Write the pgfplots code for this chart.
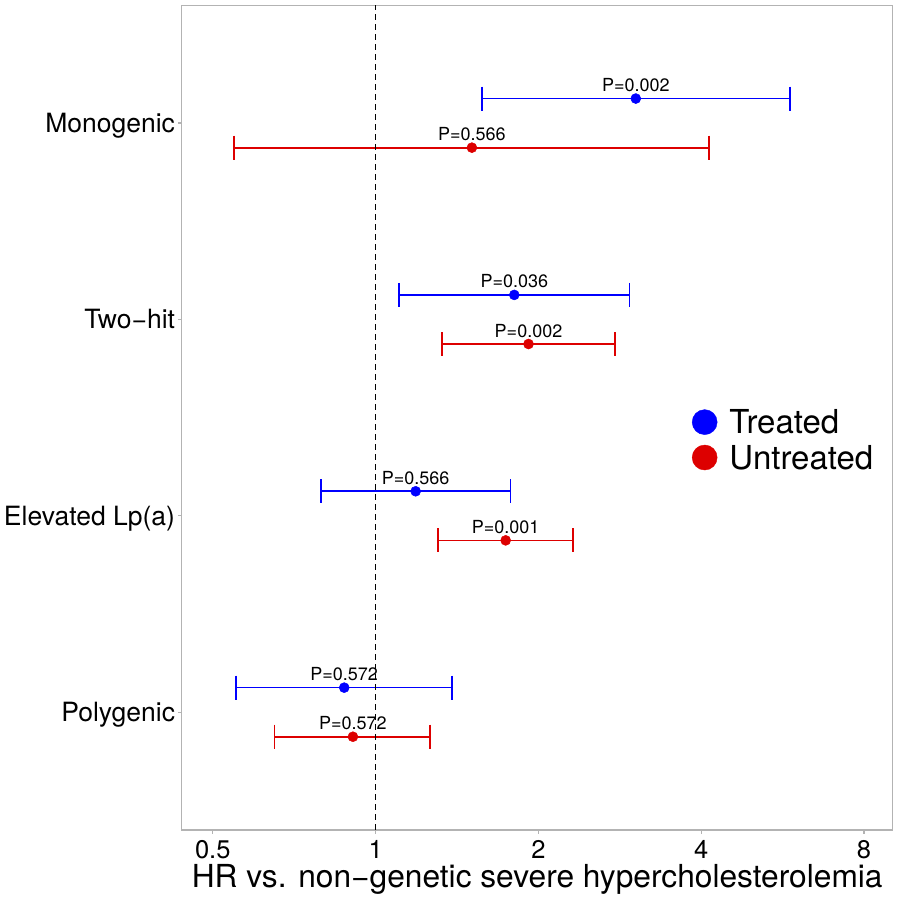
\documentclass[border=0pt]{standalone}
\usepackage{pgfplots}
\pgfplotsset{compat=1.18}
\usepackage{pgfplotstable}
\usepackage{fontspec}
\setmainfont{TeX Gyre Heros}
\definecolor{tblue}{RGB}{0,0,255}
\definecolor{tred}{RGB}{221,0,0}
\definecolor{axgray}{RGB}{179,179,179}

% x = HR, y = row position, p = label
\pgfplotstableread{
x y p
3.028 4.125 P=0.002
1.805 3.125 P=0.036
1.186 2.125 P=0.566
0.875 1.125 P=0.572
}\treated
\pgfplotstableread{
x y p
1.507 3.875 P=0.566
1.918 2.875 P=0.002
1.740 1.875 P=0.001
0.908 0.875 P=0.572
}\untreated

\begin{document}
\begin{tikzpicture}
\useasboundingbox (-181.7bp,-70bp) rectangle (717.3bp,830bp);
\begin{axis}[
  at={(0,0)}, anchor=south west,
  scale only axis, width=711bp, height=824.7bp,
  xmode=log, log basis x=2, xmin=0.438, xmax=9.04,
  ymin=0.4, ymax=4.6,
  xtick={0.5,1,2,4,8}, xticklabels={0.5,1,2,4,8},
  xminorticks=false, yminorticks=false,
  ytick={1,2,3,4},
  yticklabels={Polygenic,Elevated Lp(a),Two−hit,Monogenic},
  tick pos=left, tick align=outside, major tick length=3.5bp,
  axis line style={axgray, line width=1.3bp},
  every tick/.style={axgray, line width=1.3bp},
  /pgf/number format/assume math mode=true,
  xticklabel style={font=\fontsize{25.5bp}{30bp}\selectfont, text=black, inner xsep=0bp, inner ysep=7bp},
  yticklabel style={font=\fontsize{26.5bp}{30bp}\selectfont, text=black, inner xsep=3bp, inner ysep=0bp, text height=19bp, text depth=0bp},
  xlabel={HR vs. non−genetic severe hypercholesterolemia},
  xlabel style={at={(rel axis cs:0.5,0)}, anchor=base, yshift=-57.3bp, font=\fontsize{31.7bp}{36bp}\selectfont, inner sep=0pt},
  legend image code/.code={\fill[#1] (12.5bp,0bp) circle (12.5bp);},
  legend cell align=left,
  legend style={at={(rel axis cs:0.7174,0.4731)}, anchor=west, draw=none, fill=none, inner sep=0pt,
    font=\fontsize{33bp}{36bp}\selectfont, row sep=10bp, column sep=12bp,
    nodes={inner sep=0pt, text height=23.6bp, text depth=0bp}},
  every node near coord/.append style={anchor=base, yshift=7bp, font=\fontsize{18bp}{20bp}\selectfont, text=black, inner sep=0pt},
]
% whiskers (lower, upper CI), treated
\addplot[tblue, line width=1.7bp, mark=|, mark size=12bp, forget plot] coordinates {(1.573,4.125) (5.84,4.125)};
\addplot[tblue, line width=1.7bp, mark=|, mark size=12bp, forget plot] coordinates {(1.106,3.125) (2.948,3.125)};
\addplot[tblue, line width=1.7bp, mark=|, mark size=12bp, forget plot] coordinates {(0.793,2.125) (1.777,2.125)};
\addplot[tblue, line width=1.7bp, mark=|, mark size=12bp, forget plot] coordinates {(0.552,1.125) (1.384,1.125)};
% whiskers, untreated
\addplot[tred, line width=1.7bp, mark=|, mark size=12bp, forget plot] coordinates {(0.548,3.875) (4.13,3.875)};
\addplot[tred, line width=1.7bp, mark=|, mark size=12bp, forget plot] coordinates {(1.328,2.875) (2.769,2.875)};
\addplot[tred, line width=1.7bp, mark=|, mark size=12bp, forget plot] coordinates {(1.306,1.875) (2.319,1.875)};
\addplot[tred, line width=1.7bp, mark=|, mark size=12bp, forget plot] coordinates {(0.650,0.875) (1.262,0.875)};
% points with P labels
\addplot[only marks, mark=*, mark size=5bp, tblue, mark options={fill=tblue, draw=tblue, line width=0.5bp},
  nodes near coords, point meta=explicit symbolic, forget plot] table[x=x, y=y, meta=p] {\treated};
\addplot[only marks, mark=*, mark size=5bp, tred, mark options={fill=tred, draw=tred, line width=0.5bp},
  nodes near coords, point meta=explicit symbolic, forget plot] table[x=x, y=y, meta=p] {\untreated};
% reference line at HR = 1
\addplot[black, line width=1.4bp, dash pattern=on 5.5bp off 4.5bp, forget plot] coordinates {(1,0.4) (1,4.6)};
\addlegendimage{tblue}
\addlegendentry{Treated}
\addlegendimage{tred}
\addlegendentry{Untreated}
\end{axis}
\end{tikzpicture}
\end{document}
